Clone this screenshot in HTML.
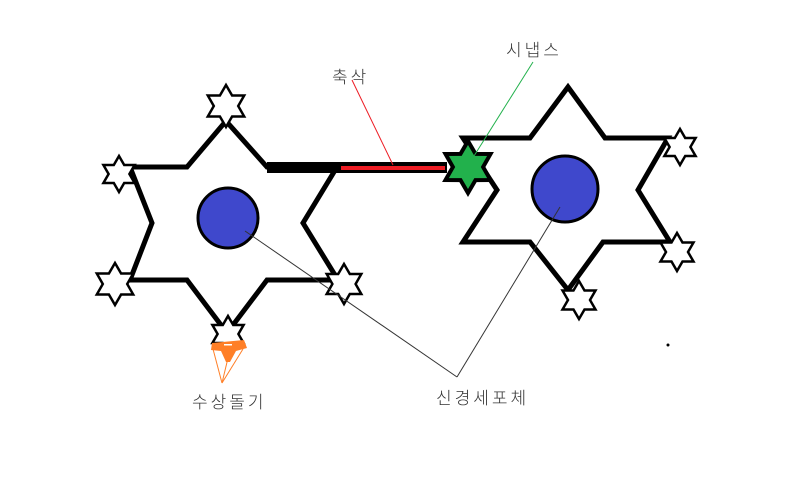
<!DOCTYPE html>
<html><head><meta charset="utf-8"><style>
html,body{margin:0;padding:0;background:#fff;width:800px;height:502px;overflow:hidden}
text{font-family:"Liberation Sans","Noto Sans CJK KR","NanumGothic",sans-serif;font-size:17px;fill:#333;letter-spacing:3px;font-weight:300}
</style></head><body>
<svg id="s" width="800" height="502" viewBox="0 0 800 502" xmlns="http://www.w3.org/2000/svg">
<rect width="800" height="502" fill="#fff"/>
<polygon points="226,121 267,167 337,167 303,223 338,280 267,280 227,333 187,280 130,280 152,223 130,167 187,167" fill="#fff" stroke="#000" stroke-width="5" stroke-linejoin="miter"/>
<circle cx="228" cy="218" r="30" fill="#3f48cc" stroke="#000" stroke-width="3"/>
<polygon points="568,87 605,138 668,138 638,190 670,242 603,242 568,290 530,242 463,242 497,190 463,138 530,138" fill="#fff" stroke="#000" stroke-width="5"/>
<circle cx="565" cy="189" r="33" fill="#3f48cc" stroke="#000" stroke-width="3"/>
<rect x="267" y="162" width="180" height="11" fill="#000"/>
<rect x="341" y="166" width="104" height="4" fill="#ed1c24"/>
<g id="stars"></g>
<path d="M212,343 L244,340 L247,348 L236,351 L230,362 L226,362 L221,351 L211,350 Z" fill="#ff7f27"/>
<rect x="224" y="344" width="8" height="1.5" fill="#fff"/>
<line x1="352" y1="80" x2="393" y2="165" stroke="#ed1c24" stroke-width="1"/>
<line x1="533" y1="62" x2="474" y2="156" stroke="#22b14c" stroke-width="1"/>
<line x1="245" y1="231" x2="457" y2="377" stroke="#333" stroke-width="1"/>
<line x1="560" y1="207" x2="457" y2="377" stroke="#333" stroke-width="1"/>
<line x1="213" y1="349" x2="222" y2="383" stroke="#ff7f27" stroke-width="1"/>
<line x1="228" y1="358" x2="222" y2="383" stroke="#ff7f27" stroke-width="1"/>
<line x1="243" y1="349" x2="222" y2="383" stroke="#ff7f27" stroke-width="1"/>
<circle cx="668" cy="345" r="1.5" fill="#000"/>
<text x="332" y="83">축삭</text>
<text x="506" y="56">시냅스</text>
<text x="192" y="408">수상돌기</text>
<text x="436" y="404">신경세포체</text>
</svg>
<script>
var g=document.getElementById('stars');
function star(cx,cy,r,fill,sw){
 var p=[];for(var i=0;i<12;i++){var a=-Math.PI/2+i*Math.PI/6;var rr=i%2?r*0.58:r;p.push((cx+rr*Math.cos(a)).toFixed(1)+','+(cy+rr*Math.sin(a)).toFixed(1));}
 var e=document.createElementNS('http://www.w3.org/2000/svg','polygon');
 e.setAttribute('points',p.join(' '));e.setAttribute('fill',fill);e.setAttribute('stroke','#000');e.setAttribute('stroke-width',sw);
 g.appendChild(e);
}
star(226,106,21,'#fff',2.5);star(119,174,18,'#fff',2.5);star(115,284,21,'#fff',2.5);
star(344,284,20,'#fff',2.5);star(228,334,18,'#fff',2.5);
star(680,147,18,'#fff',2.5);star(677,252,19,'#fff',2.5);star(579,300,19,'#fff',2.5);
star(468,167,26,'#22b14c',4);
</script>
</body></html>
